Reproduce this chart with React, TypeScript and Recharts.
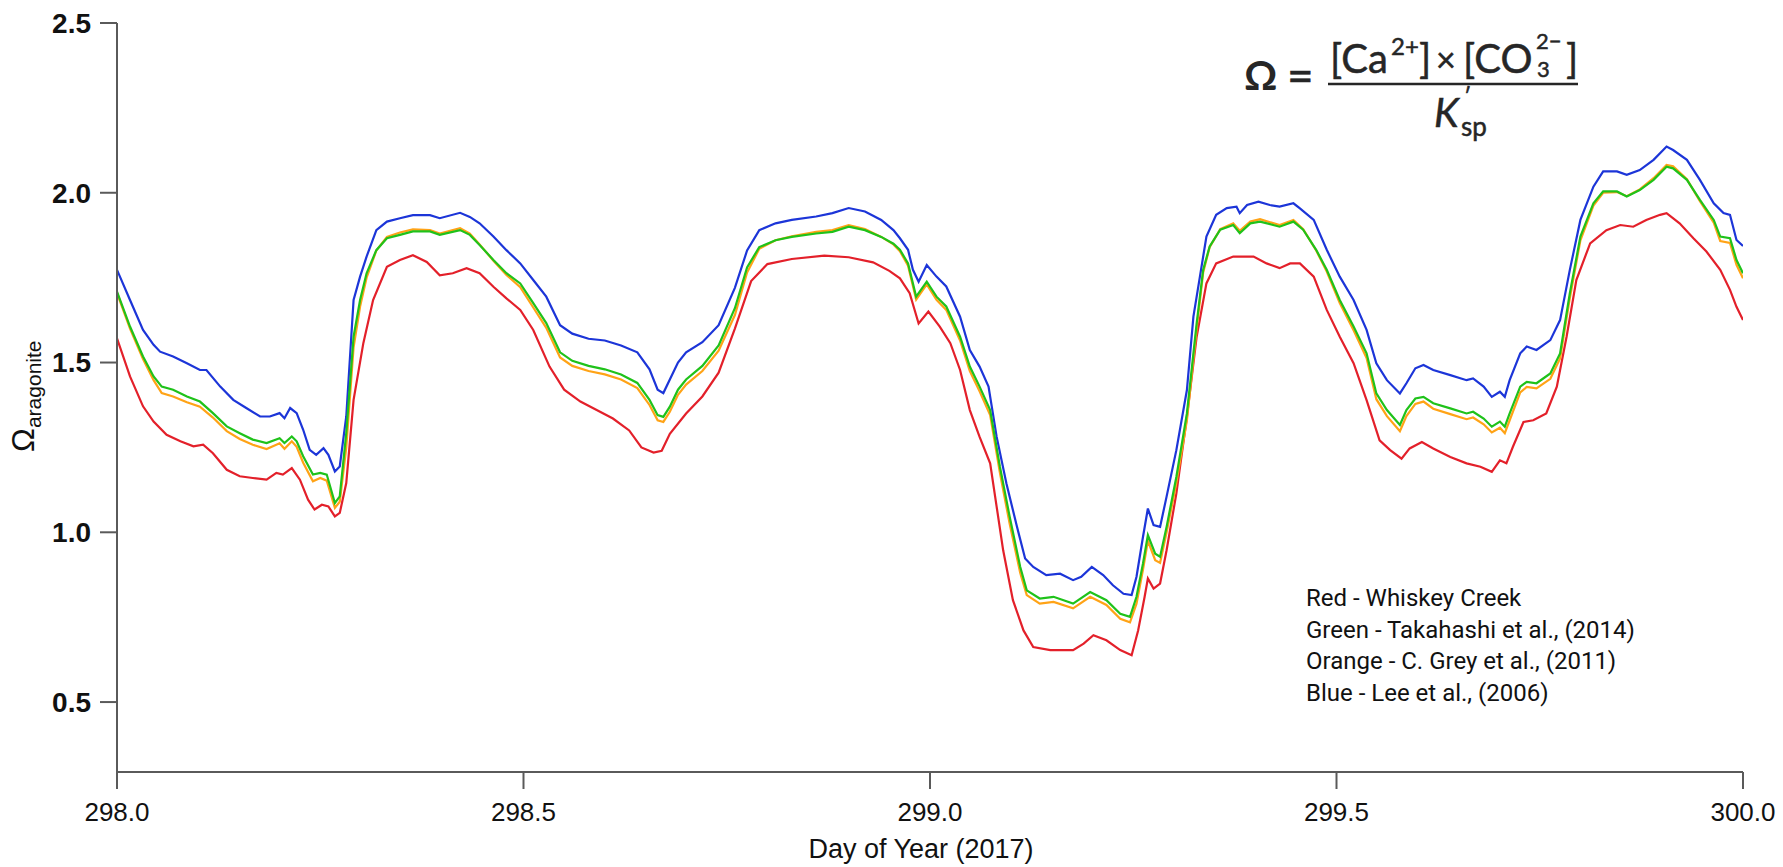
import React from 'react';
import { LineChart, Line, XAxis, YAxis } from 'recharts';

const xTicks = [298, 298.5, 299, 299.5, 300];
const yTicks = [0.5, 1.0, 1.5, 2.0, 2.5];

const legendLines = [
  'Red - Whiskey Creek',
  'Green - Takahashi et al., (2014)',
  'Orange - C. Grey et al., (2011)',
  'Blue - Lee et al., (2006)',
];

// [day of year, omega aragonite]
const redPoints: [number, number][] = [
  [298.000,1.571],[298.016,1.459],[298.032,1.371],[298.045,1.326],[298.061,1.287],[298.078,1.268],[298.094,1.253],[298.106,1.258],
  [298.118,1.233],[298.135,1.184],[298.151,1.165],[298.167,1.160],[298.184,1.155],[298.196,1.175],[298.204,1.170],[298.215,1.189],
  [298.225,1.155],[298.235,1.096],[298.243,1.067],[298.252,1.081],[298.260,1.076],[298.268,1.047],[298.274,1.057],[298.282,1.145],
  [298.291,1.390],[298.303,1.557],[298.315,1.684],[298.332,1.782],[298.348,1.802],[298.364,1.816],[298.381,1.796],[298.397,1.757],
  [298.413,1.763],[298.430,1.778],[298.446,1.763],[298.463,1.723],[298.479,1.689],[298.496,1.655],[298.512,1.596],[298.532,1.488],
  [298.550,1.420],[298.570,1.385],[298.590,1.360],[298.610,1.335],[298.630,1.300],[298.645,1.250],[298.660,1.235],[298.670,1.240],
  [298.680,1.290],[298.700,1.350],[298.720,1.400],[298.740,1.470],[298.760,1.600],[298.780,1.740],[298.800,1.790],[298.830,1.805],
  [298.870,1.815],[298.900,1.810],[298.930,1.795],[298.950,1.770],[298.963,1.748],[298.975,1.704],[298.986,1.615],[298.998,1.650],
  [299.012,1.606],[299.025,1.557],[299.037,1.478],[299.049,1.360],[299.061,1.281],[299.074,1.203],[299.082,1.075],[299.090,0.947],
  [299.102,0.800],[299.115,0.711],[299.127,0.662],[299.148,0.653],[299.176,0.653],[299.189,0.672],[299.201,0.697],[299.217,0.682],
  [299.234,0.653],[299.248,0.638],[299.256,0.711],[299.264,0.810],[299.268,0.864],[299.275,0.834],[299.283,0.849],[299.291,0.947],
  [299.303,1.114],[299.316,1.340],[299.328,1.576],[299.340,1.733],[299.352,1.792],[299.373,1.812],[299.398,1.812],[299.414,1.792],
  [299.430,1.778],[299.443,1.792],[299.455,1.792],[299.472,1.753],[299.488,1.655],[299.504,1.576],[299.521,1.498],[299.537,1.389],
  [299.553,1.271],[299.566,1.242],[299.580,1.217],[299.590,1.247],[299.605,1.266],[299.619,1.247],[299.640,1.222],[299.660,1.203],
  [299.677,1.193],[299.691,1.178],[299.701,1.212],[299.709,1.203],[299.717,1.252],[299.730,1.325],[299.742,1.330],[299.758,1.350],
  [299.771,1.429],[299.783,1.576],[299.795,1.743],[299.812,1.851],[299.832,1.890],[299.849,1.905],[299.865,1.900],[299.881,1.920],
  [299.898,1.935],[299.906,1.940],[299.922,1.910],[299.939,1.866],[299.955,1.827],[299.972,1.773],[299.984,1.714],[299.992,1.664],
  [300.000,1.625],
];

const greenPoints: [number, number][] = [
  [298.000,1.709],[298.016,1.606],[298.032,1.518],[298.045,1.459],[298.055,1.429],[298.069,1.420],[298.086,1.400],[298.102,1.385],
  [298.118,1.351],[298.135,1.312],[298.151,1.292],[298.167,1.273],[298.184,1.263],[298.200,1.277],[298.206,1.263],[298.215,1.282],
  [298.221,1.268],[298.229,1.224],[298.241,1.170],[298.250,1.175],[298.258,1.170],[298.268,1.086],[298.274,1.106],[298.282,1.292],
  [298.291,1.576],[298.299,1.684],[298.307,1.763],[298.319,1.831],[298.332,1.866],[298.348,1.876],[298.364,1.886],[298.385,1.886],
  [298.397,1.876],[298.422,1.890],[298.434,1.876],[298.446,1.846],[298.463,1.802],[298.479,1.763],[298.496,1.733],[298.512,1.675],
  [298.528,1.616],[298.545,1.530],[298.560,1.505],[298.580,1.490],[298.600,1.480],[298.620,1.465],[298.640,1.440],[298.655,1.390],
  [298.665,1.345],[298.672,1.340],[298.680,1.370],[298.690,1.420],[298.700,1.450],[298.720,1.490],[298.740,1.550],[298.760,1.660],
  [298.775,1.780],[298.790,1.840],[298.810,1.860],[298.830,1.870],[298.860,1.880],[298.880,1.885],[298.900,1.900],[298.920,1.890],
  [298.940,1.870],[298.955,1.850],[298.963,1.832],[298.973,1.792],[298.983,1.694],[298.996,1.738],[299.008,1.694],[299.020,1.665],
  [299.037,1.576],[299.049,1.488],[299.061,1.429],[299.074,1.360],[299.086,1.193],[299.098,1.046],[299.111,0.898],[299.119,0.829],
  [299.135,0.805],[299.152,0.810],[299.176,0.790],[299.197,0.824],[299.217,0.800],[299.234,0.760],[299.246,0.751],[299.254,0.810],
  [299.262,0.908],[299.268,0.992],[299.277,0.937],[299.283,0.928],[299.291,1.016],[299.303,1.163],[299.316,1.350],[299.328,1.615],
  [299.336,1.773],[299.344,1.842],[299.357,1.891],[299.373,1.905],[299.381,1.881],[299.394,1.910],[299.406,1.915],[299.430,1.900],
  [299.447,1.915],[299.459,1.891],[299.475,1.832],[299.488,1.773],[299.504,1.684],[299.521,1.606],[299.537,1.527],[299.549,1.409],
  [299.562,1.360],[299.578,1.316],[299.586,1.360],[299.597,1.394],[299.607,1.399],[299.619,1.380],[299.640,1.365],[299.660,1.350],
  [299.668,1.355],[299.681,1.335],[299.691,1.311],[299.701,1.326],[299.707,1.311],[299.713,1.350],[299.726,1.429],[299.734,1.443],
  [299.746,1.439],[299.763,1.468],[299.775,1.527],[299.787,1.704],[299.800,1.871],[299.816,1.969],[299.828,2.004],[299.845,2.004],
  [299.857,1.989],[299.873,2.008],[299.890,2.038],[299.906,2.077],[299.914,2.072],[299.931,2.038],[299.947,1.979],[299.964,1.920],
  [299.972,1.871],[299.984,1.866],[299.992,1.802],[300.000,1.763],
];

const orangePoints: [number, number][] = [
  [298.000,1.705],[298.016,1.600],[298.032,1.510],[298.045,1.448],[298.055,1.410],[298.069,1.400],[298.086,1.383],[298.102,1.370],
  [298.118,1.338],[298.135,1.298],[298.151,1.275],[298.167,1.258],[298.184,1.245],[298.200,1.262],[298.206,1.246],[298.215,1.268],
  [298.221,1.252],[298.229,1.205],[298.241,1.150],[298.250,1.160],[298.258,1.152],[298.268,1.072],[298.274,1.090],[298.282,1.250],
  [298.291,1.545],[298.299,1.665],[298.307,1.750],[298.319,1.830],[298.332,1.870],[298.348,1.883],[298.364,1.892],[298.385,1.890],
  [298.397,1.880],[298.422,1.896],[298.434,1.880],[298.446,1.848],[298.463,1.800],[298.479,1.758],[298.496,1.722],[298.512,1.662],
  [298.528,1.602],[298.545,1.515],[298.560,1.490],[298.580,1.475],[298.600,1.465],[298.620,1.450],[298.640,1.425],[298.655,1.375],
  [298.665,1.330],[298.672,1.325],[298.680,1.355],[298.690,1.405],[298.700,1.435],[298.720,1.475],[298.740,1.535],[298.760,1.640],
  [298.775,1.765],[298.790,1.835],[298.810,1.860],[298.830,1.872],[298.860,1.885],[298.880,1.890],[298.900,1.905],[298.920,1.893],
  [298.940,1.870],[298.955,1.848],[298.963,1.828],[298.973,1.785],[298.983,1.685],[298.996,1.730],[299.008,1.685],[299.020,1.655],
  [299.037,1.565],[299.049,1.475],[299.061,1.415],[299.074,1.345],[299.086,1.175],[299.098,1.025],[299.111,0.880],[299.119,0.815],
  [299.135,0.790],[299.152,0.795],[299.176,0.776],[299.197,0.810],[299.217,0.786],[299.234,0.745],[299.246,0.735],[299.254,0.790],
  [299.262,0.890],[299.268,0.975],[299.277,0.918],[299.283,0.910],[299.291,1.000],[299.303,1.145],[299.316,1.330],[299.328,1.600],
  [299.336,1.765],[299.344,1.840],[299.357,1.893],[299.373,1.910],[299.381,1.888],[299.394,1.915],[299.406,1.922],[299.430,1.905],
  [299.447,1.920],[299.459,1.893],[299.475,1.830],[299.488,1.768],[299.504,1.675],[299.521,1.595],[299.537,1.513],[299.549,1.392],
  [299.562,1.342],[299.578,1.298],[299.586,1.342],[299.597,1.378],[299.607,1.385],[299.619,1.364],[299.640,1.348],[299.660,1.333],
  [299.668,1.338],[299.681,1.318],[299.691,1.294],[299.701,1.308],[299.707,1.292],[299.713,1.330],[299.726,1.412],[299.734,1.428],
  [299.746,1.424],[299.763,1.452],[299.775,1.512],[299.787,1.690],[299.800,1.860],[299.816,1.962],[299.828,2.000],[299.845,2.002],
  [299.857,1.990],[299.873,2.010],[299.890,2.043],[299.906,2.082],[299.914,2.078],[299.931,2.040],[299.947,1.975],[299.964,1.912],
  [299.972,1.858],[299.984,1.852],[299.992,1.788],[300.000,1.748],
];

const bluePoints: [number, number][] = [
  [298.000,1.773],[298.016,1.684],[298.032,1.596],[298.045,1.552],[298.053,1.532],[298.069,1.518],[298.086,1.498],[298.102,1.478],
  [298.110,1.478],[298.127,1.429],[298.143,1.390],[298.159,1.366],[298.176,1.341],[298.188,1.341],[298.200,1.351],[298.206,1.336],
  [298.213,1.366],[298.221,1.351],[298.229,1.302],[298.237,1.243],[298.245,1.228],[298.254,1.248],[298.260,1.228],[298.268,1.179],
  [298.274,1.194],[298.282,1.341],[298.291,1.684],[298.299,1.753],[298.307,1.812],[298.319,1.890],[298.332,1.915],[298.348,1.925],
  [298.364,1.934],[298.385,1.934],[298.397,1.925],[298.422,1.941],[298.434,1.929],[298.446,1.910],[298.463,1.871],[298.479,1.831],
  [298.496,1.792],[298.512,1.743],[298.528,1.694],[298.545,1.610],[298.560,1.585],[298.580,1.570],[298.600,1.565],[298.620,1.550],
  [298.640,1.530],[298.655,1.480],[298.665,1.420],[298.672,1.410],[298.680,1.450],[298.690,1.500],[298.700,1.530],[298.720,1.560],
  [298.740,1.610],[298.760,1.720],[298.775,1.830],[298.790,1.890],[298.810,1.910],[298.830,1.920],[298.860,1.930],[298.880,1.940],
  [298.900,1.955],[298.920,1.945],[298.940,1.920],[298.955,1.890],[298.963,1.866],[298.973,1.832],[298.979,1.773],[298.986,1.738],
  [298.996,1.787],[299.008,1.753],[299.020,1.724],[299.037,1.635],[299.049,1.537],[299.061,1.488],[299.072,1.429],[299.082,1.281],
  [299.094,1.144],[299.107,1.016],[299.117,0.923],[299.127,0.898],[299.143,0.874],[299.160,0.878],[299.176,0.859],[299.186,0.869],
  [299.199,0.898],[299.213,0.874],[299.225,0.844],[299.238,0.819],[299.248,0.815],[299.254,0.869],[299.262,0.987],[299.268,1.070],
  [299.275,1.021],[299.283,1.016],[299.291,1.105],[299.303,1.242],[299.316,1.419],[299.324,1.635],[299.332,1.753],[299.340,1.871],
  [299.352,1.935],[299.365,1.955],[299.377,1.959],[299.381,1.940],[299.390,1.964],[299.404,1.974],[299.418,1.964],[299.430,1.959],
  [299.447,1.969],[299.455,1.954],[299.472,1.920],[299.488,1.832],[299.504,1.753],[299.521,1.684],[299.537,1.596],[299.549,1.498],
  [299.562,1.448],[299.578,1.409],[299.586,1.439],[299.597,1.483],[299.607,1.493],[299.619,1.478],[299.640,1.463],[299.660,1.448],
  [299.668,1.453],[299.681,1.429],[299.691,1.399],[299.701,1.414],[299.707,1.399],[299.713,1.448],[299.726,1.527],[299.734,1.547],
  [299.746,1.537],[299.763,1.566],[299.775,1.625],[299.787,1.773],[299.800,1.920],[299.816,2.018],[299.828,2.063],[299.845,2.063],
  [299.857,2.053],[299.873,2.067],[299.890,2.097],[299.906,2.136],[299.914,2.126],[299.931,2.097],[299.947,2.038],[299.964,1.969],
  [299.976,1.940],[299.984,1.935],[299.992,1.861],[300.000,1.843],
];

const toData = (pts: [number, number][]) => pts.map(([d, v]) => ({ d, v }));
const redData = toData(redPoints);
const greenData = toData(greenPoints);
const orangeData = toData(orangePoints);
const blueData = toData(bluePoints);

const W = 1783;
const H = 867;
const PLOT_LEFT = 117;
const PLOT_RIGHT = 1743;
const PLOT_TOP = 23;
const PLOT_BOTTOM = 772;
const Y_AXIS_W = 80;
const X_AXIS_H = 70;

const AXIS_COLOR = '#5a5a5a';
const FORMULA_COLOR = '#262626';
const FF = '"Liberation Sans", Arial, Helvetica, sans-serif';
const FORMULA_FF = 'Lato, "Open Sans", sans-serif';

export default function App() {
  return (
    <div style={{ position: 'absolute', left: 0, top: 0, width: W, height: H, background: '#ffffff' }}>
      <LineChart
        width={W}
        height={H}
        margin={{ top: PLOT_TOP, right: W - PLOT_RIGHT, left: PLOT_LEFT - Y_AXIS_W, bottom: H - PLOT_BOTTOM - X_AXIS_H }}
      >
        <XAxis
          dataKey="d"
          type="number"
          domain={[298, 300]}
          ticks={xTicks}
          allowDataOverflow
          height={X_AXIS_H}
          tickSize={17}
          tickMargin={14}
          tickFormatter={(v: number) => v.toFixed(1)}
          stroke={AXIS_COLOR}
          strokeWidth={2}
          tick={{ fill: '#111', fontSize: 26, fontFamily: FF }}
          tickLine={{ stroke: AXIS_COLOR, strokeWidth: 2 }}
          axisLine={{ stroke: AXIS_COLOR, strokeWidth: 2 }}
        />
        <YAxis
          dataKey="v"
          type="number"
          domain={[0.294, 2.5]}
          ticks={yTicks}
          allowDataOverflow
          width={Y_AXIS_W}
          tickSize={17}
          tickMargin={9}
          tickFormatter={(v: number) => v.toFixed(1)}
          stroke={AXIS_COLOR}
          strokeWidth={2}
          tick={{ fill: '#111', fontSize: 28, fontWeight: 700, fontFamily: FF }}
          tickLine={{ stroke: AXIS_COLOR, strokeWidth: 2 }}
          axisLine={{ stroke: AXIS_COLOR, strokeWidth: 2 }}
        />
        <Line data={blueData} dataKey="v" type="linear" stroke="#1c35d8" strokeWidth={2.2} dot={false} activeDot={false} isAnimationActive={false} />
        <Line data={redData} dataKey="v" type="linear" stroke="#e3202a" strokeWidth={2.2} dot={false} activeDot={false} isAnimationActive={false} />
        <Line data={orangeData} dataKey="v" type="linear" stroke="#ffa316" strokeWidth={2.2} dot={false} activeDot={false} isAnimationActive={false} />
        <Line data={greenData} dataKey="v" type="linear" stroke="#1fc21a" strokeWidth={2.2} dot={false} activeDot={false} isAnimationActive={false} />
      </LineChart>

      <svg width={W} height={H} style={{ position: 'absolute', left: 0, top: 0, pointerEvents: 'none' }}>
        {/* y axis title */}
        <text x={34} y={452} transform="rotate(-90 34 452)" fontFamily={FF} fill="#111">
          <tspan fontSize={32}>Ω</tspan>
          <tspan fontSize={21} dy={7}>aragonite</tspan>
        </text>
        {/* x axis title */}
        <text x={921} y={858} textAnchor="middle" fontFamily={FF} fontSize={27} fill="#111">Day of Year (2017)</text>

        {/* formula */}
        <g fill={FORMULA_COLOR} stroke={FORMULA_COLOR} strokeWidth={0.5} fontFamily={FORMULA_FF}>
          <text x={1244} y={90} fontSize={41} fontWeight={700} strokeWidth={0}>Ω</text>
          <text x={1287} y={92} fontSize={46}>=</text>
          <line x1={1328} x2={1578} y1={84} y2={84} strokeWidth={2.5} />
          <text fontSize={40}>
            <tspan x={1330} y={73}>[Ca</tspan>
            <tspan x={1391} y={55} fontSize={24}>2+</tspan>
            <tspan x={1419} y={73}>]</tspan>
            <tspan x={1436} y={72} fontSize={34}>×</tspan>
            <tspan x={1463} y={73}>[CO</tspan>
            <tspan x={1536} y={49} fontSize={22}>2−</tspan>
            <tspan x={1537} y={77} fontSize={22}>3</tspan>
            <tspan x={1566} y={73}>]</tspan>
          </text>
          <text fontSize={40}>
            <tspan x={1434} y={127} fontStyle="italic">K</tspan>
            <tspan x={1464} y={103} fontSize={22}>′</tspan>
            <tspan x={1461} y={136} fontSize={26}>sp</tspan>
          </text>
        </g>

        {/* legend text */}
        <g fontFamily="Roboto, sans-serif" fontSize={24} fill="#111">
          {legendLines.map((t, i) => (
            <text key={t} x={1306} y={606 + i * 31.5}>{t}</text>
          ))}
        </g>
      </svg>
    </div>
  );
}
